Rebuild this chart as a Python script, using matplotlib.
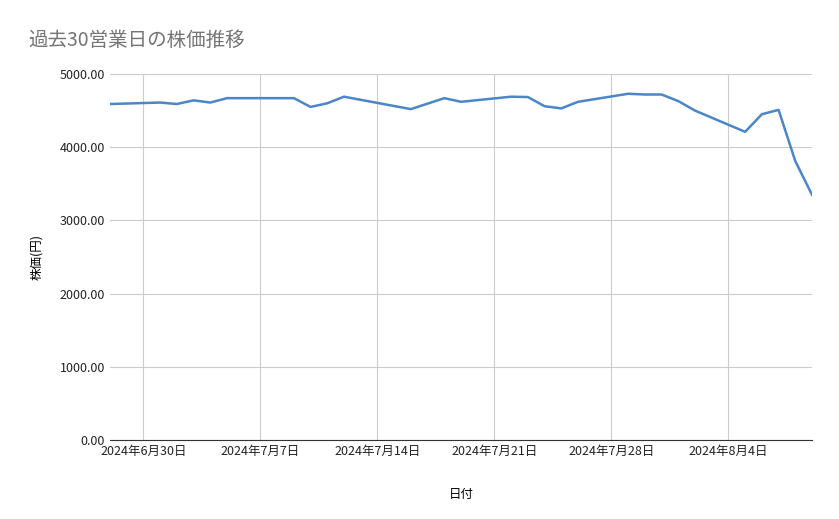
import matplotlib
matplotlib.use("Agg")
import matplotlib.pyplot as plt
import matplotlib.dates as mdates
import pandas as pd

plt.rcParams['font.family'] = ['Noto Sans CJK JP', 'DejaVu Sans']

dates = ["2024-06-28","2024-07-01","2024-07-02","2024-07-03","2024-07-04","2024-07-05",
         "2024-07-08","2024-07-09","2024-07-10","2024-07-11","2024-07-12","2024-07-16",
         "2024-07-17","2024-07-18","2024-07-19","2024-07-22","2024-07-23","2024-07-24",
         "2024-07-25","2024-07-26","2024-07-29","2024-07-30","2024-07-31","2024-08-01",
         "2024-08-02","2024-08-05","2024-08-06","2024-08-07","2024-08-08","2024-08-09"]
prices = [4590,4610,4590,4640,4610,4670,4670,4670,4550,4600,4690,4520,
          4595,4670,4620,4690,4685,4560,4530,4620,4730,4720,4720,4630,
          4500,4210,4450,4510,3810,3350]
tick_dates = ["2024-06-30","2024-07-07","2024-07-14","2024-07-21","2024-07-28","2024-08-04"]
tick_labels = ["2024年6月30日","2024年7月7日","2024年7月14日","2024年7月21日","2024年7月28日","2024年8月4日"]

x = pd.to_datetime(dates)
fig = plt.figure(figsize=(8.39,5.19), dpi=100)
ax = fig.add_axes([110/839, 1-440/519, 702/839, 366/519])
ax.plot(x, prices, color='#4a86c8', lw=1.8)
ax.set_xlim(x[0], x[-1])
ax.set_ylim(0, 5000)
ax.set_yticks([0,1000,2000,3000,4000,5000])
ax.set_yticklabels([f"{v:.2f}" for v in [0,1000,2000,3000,4000,5000]])
ax.set_xticks(pd.to_datetime(tick_dates))
ax.set_xticklabels(tick_labels)
ax.grid(True, color='#cccccc', lw=0.8)
for s in ['top','right','left']:
    ax.spines[s].set_visible(False)
ax.spines['bottom'].set_color('#333333')
ax.tick_params(length=0, labelsize=9, colors='#222222')
ax.set_xlabel("日付", fontsize=9, labelpad=22)
ax.set_ylabel("株価(円)", fontsize=9, labelpad=12)
fig.text(28/839, 1-40/519, "過去30営業日の株価推移", fontsize=14, color='#757575', va='center')
fig.savefig("out.png", dpi=100)
